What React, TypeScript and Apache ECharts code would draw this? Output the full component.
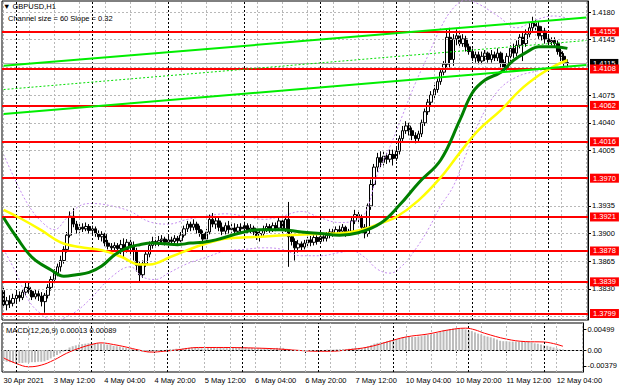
import React, { useEffect, useRef } from "react";
import * as echarts from "echarts";

const FONT = "'Liberation Sans', Arial, sans-serif";
const SLOTS = 185;

// [open, close, low, high] per H1 bar, first bar = 30 Apr 2021 20:00
const candles: number[][] = [
  [1.3828,1.3810,1.3806,1.3832],[1.3810,1.3815,1.3803,1.3820],[1.3815,1.3812,1.3806,1.3822],[1.3812,1.3818,1.3808,1.3824],
  [1.3818,1.3822,1.3812,1.3828],[1.3822,1.3819,1.3814,1.3827],[1.3819,1.3826,1.3816,1.3830],[1.3826,1.3832,1.3822,1.3838],
  [1.3832,1.3827,1.3824,1.3840],[1.3827,1.3820,1.3816,1.3830],[1.3820,1.3824,1.3817,1.3829],[1.3824,1.3821,1.3815,1.3828],
  [1.3821,1.3814,1.3808,1.3826],[1.3814,1.3822,1.3800,1.3825],[1.3822,1.3832,1.3818,1.3836],[1.3832,1.3842,1.3828,1.3846],
  [1.3842,1.3850,1.3838,1.3855],[1.3850,1.3858,1.3846,1.3862],[1.3858,1.3866,1.3852,1.3872],[1.3866,1.3880,1.3862,1.3884],
  [1.3880,1.3898,1.3876,1.3902],[1.3898,1.3922,1.3895,1.3928],[1.3922,1.3912,1.3908,1.3932],[1.3912,1.3905,1.3900,1.3916],
  [1.3905,1.3908,1.3901,1.3912],[1.3908,1.3906,1.3902,1.3913],[1.3906,1.3909,1.3903,1.3914],[1.3909,1.3904,1.3900,1.3912],
  [1.3904,1.3906,1.3899,1.3910],[1.3906,1.3900,1.3896,1.3909],[1.3900,1.3896,1.3892,1.3904],[1.3896,1.3899,1.3890,1.3903],
  [1.3899,1.3888,1.3884,1.3901],[1.3888,1.3884,1.3880,1.3892],[1.3884,1.3882,1.3878,1.3888],[1.3882,1.3885,1.3878,1.3889],
  [1.3885,1.3881,1.3877,1.3888],[1.3881,1.3886,1.3874,1.3892],[1.3886,1.3880,1.3868,1.3894],[1.3880,1.3889,1.3876,1.3893],
  [1.3889,1.3884,1.3872,1.3895],[1.3884,1.3878,1.3866,1.3890],[1.3878,1.3860,1.3852,1.3882],[1.3860,1.3848,1.3840,1.3864],
  [1.3848,1.3862,1.3844,1.3866],[1.3862,1.3874,1.3858,1.3878],[1.3874,1.3885,1.3870,1.3890],[1.3885,1.3890,1.3881,1.3896],
  [1.3890,1.3887,1.3883,1.3895],[1.3887,1.3891,1.3884,1.3897],[1.3891,1.3893,1.3887,1.3898],[1.3893,1.3889,1.3885,1.3896],
  [1.3889,1.3892,1.3886,1.3897],[1.3892,1.3890,1.3886,1.3896],[1.3890,1.3894,1.3887,1.3898],[1.3894,1.3891,1.3887,1.3897],
  [1.3891,1.3898,1.3889,1.3902],[1.3898,1.3906,1.3895,1.3910],[1.3906,1.3912,1.3902,1.3916],[1.3912,1.3908,1.3903,1.3915],
  [1.3908,1.3912,1.3904,1.3918],[1.3912,1.3905,1.3900,1.3915],[1.3905,1.3900,1.3896,1.3910],[1.3900,1.3893,1.3878,1.3904],
  [1.3893,1.3902,1.3889,1.3906],[1.3902,1.3918,1.3899,1.3924],[1.3918,1.3912,1.3908,1.3926],[1.3912,1.3916,1.3906,1.3922],
  [1.3916,1.3908,1.3903,1.3920],[1.3908,1.3903,1.3898,1.3914],[1.3903,1.3910,1.3899,1.3914],[1.3910,1.3905,1.3900,1.3916],
  [1.3905,1.3907,1.3901,1.3912],[1.3907,1.3903,1.3899,1.3913],[1.3903,1.3908,1.3899,1.3912],[1.3908,1.3906,1.3901,1.3913],
  [1.3906,1.3910,1.3902,1.3915],[1.3910,1.3904,1.3900,1.3913],[1.3904,1.3907,1.3900,1.3912],[1.3907,1.3902,1.3898,1.3910],
  [1.3902,1.3896,1.3892,1.3906],[1.3896,1.3900,1.3890,1.3904],[1.3900,1.3906,1.3896,1.3910],[1.3906,1.3909,1.3902,1.3913],
  [1.3909,1.3905,1.3901,1.3912],[1.3905,1.3910,1.3902,1.3914],[1.3910,1.3907,1.3903,1.3914],[1.3907,1.3916,1.3904,1.3920],
  [1.3916,1.3906,1.3900,1.3923],[1.3906,1.3918,1.3902,1.3922],[1.3918,1.3896,1.3858,1.3940],[1.3896,1.3890,1.3885,1.3902],
  [1.3890,1.3882,1.3866,1.3894],[1.3882,1.3887,1.3876,1.3892],[1.3887,1.3883,1.3878,1.3890],[1.3883,1.3888,1.3880,1.3892],
  [1.3888,1.3892,1.3884,1.3896],[1.3892,1.3889,1.3884,1.3897],[1.3889,1.3895,1.3885,1.3899],[1.3895,1.3890,1.3886,1.3899],
  [1.3890,1.3896,1.3887,1.3900],[1.3896,1.3894,1.3890,1.3900],[1.3894,1.3898,1.3890,1.3902],[1.3898,1.3902,1.3894,1.3906],
  [1.3902,1.3900,1.3896,1.3906],[1.3900,1.3905,1.3897,1.3909],[1.3905,1.3903,1.3899,1.3910],[1.3903,1.3908,1.3900,1.3912],
  [1.3908,1.3900,1.3896,1.3910],[1.3900,1.3903,1.3897,1.3906],[1.3903,1.3916,1.3901,1.3920],[1.3916,1.3924,1.3912,1.3930],
  [1.3924,1.3920,1.3914,1.3928],[1.3920,1.3908,1.3904,1.3924],[1.3908,1.3900,1.3894,1.3912],[1.3900,1.3935,1.3896,1.3938],
  [1.3935,1.3962,1.3930,1.3968],[1.3962,1.3984,1.3958,1.3988],[1.3984,1.3996,1.3978,1.4002],[1.3996,1.3990,1.3984,1.4004],
  [1.3990,1.3998,1.3986,1.4004],[1.3998,1.3994,1.3988,1.4002],[1.3994,1.4000,1.3990,1.4006],[1.4000,1.3995,1.3986,1.4006],
  [1.3995,1.4004,1.3992,1.4010],[1.4004,1.4020,1.4000,1.4024],[1.4020,1.4030,1.4016,1.4036],[1.4030,1.4036,1.4026,1.4042],
  [1.4036,1.4030,1.4024,1.4040],[1.4030,1.4024,1.4018,1.4034],[1.4024,1.4020,1.4014,1.4028],[1.4020,1.4026,1.4015,1.4030],
  [1.4026,1.4040,1.4022,1.4044],[1.4040,1.4054,1.4036,1.4058],[1.4054,1.4066,1.4050,1.4070],[1.4066,1.4075,1.4060,1.4080],
  [1.4075,1.4082,1.4070,1.4088],[1.4082,1.4092,1.4078,1.4096],[1.4092,1.4104,1.4088,1.4108],[1.4104,1.4114,1.4100,1.4118],
  [1.4114,1.4148,1.4110,1.4158],[1.4148,1.4120,1.4110,1.4160],[1.4120,1.4146,1.4112,1.4152],[1.4146,1.4150,1.4138,1.4158],
  [1.4150,1.4140,1.4135,1.4154],[1.4140,1.4146,1.4136,1.4152],[1.4146,1.4136,1.4130,1.4150],[1.4136,1.4130,1.4126,1.4140],
  [1.4130,1.4122,1.4118,1.4134],[1.4122,1.4126,1.4116,1.4130],[1.4126,1.4118,1.4114,1.4130],[1.4118,1.4124,1.4114,1.4130],
  [1.4124,1.4128,1.4118,1.4132],[1.4128,1.4120,1.4116,1.4130],[1.4120,1.4126,1.4116,1.4132],[1.4126,1.4122,1.4118,1.4130],
  [1.4122,1.4128,1.4118,1.4134],[1.4128,1.4116,1.4110,1.4130],[1.4116,1.4110,1.4104,1.4120],[1.4110,1.4124,1.4106,1.4128],
  [1.4124,1.4134,1.4118,1.4138],[1.4134,1.4128,1.4122,1.4140],[1.4128,1.4138,1.4124,1.4144],[1.4138,1.4148,1.4134,1.4152],
  [1.4148,1.4140,1.4118,1.4156],[1.4140,1.4152,1.4136,1.4158],[1.4152,1.4160,1.4148,1.4166],[1.4160,1.4166,1.4156,1.4174],
  [1.4166,1.4162,1.4156,1.4172],[1.4162,1.4150,1.4146,1.4168],[1.4150,1.4156,1.4144,1.4162],[1.4156,1.4146,1.4140,1.4160],
  [1.4146,1.4142,1.4138,1.4150],[1.4142,1.4144,1.4138,1.4148],[1.4144,1.4140,1.4136,1.4148],[1.4140,1.4130,1.4126,1.4144],
  [1.4130,1.4124,1.4118,1.4134],[1.4124,1.4116,1.4112,1.4128],[1.4116,1.4115,1.4111,1.4120],
];

// moving averages: [bar, price]
const greenMA: number[][] = [
  [0,1.3920],[4,1.3896],[9,1.3870],[15,1.3854],[19,1.3846],[23,1.3848],[27,1.3851],[31,1.3859],[35,1.3873],[39,1.3882],
  [43,1.3886],[47,1.3888],[51,1.3887],[55,1.3886],[59,1.3888],[63,1.3889],[67,1.3892],[75,1.3901],[81,1.3905],[87,1.3905],
  [94,1.3902],[100,1.3900],[106,1.3898],[112,1.3901],[119,1.3913],[125,1.3936],[131,1.3964],[138,1.3993],[144,1.4043],
  [148,1.4078],[152,1.4094],[157,1.4104],[161,1.4119],[165,1.4129],[169,1.4136],[174,1.4136],[178,1.4134],
];
const yellowMA: number[][] = [
  [0,1.3930],[5,1.3920],[12,1.3904],[18,1.3889],[24,1.3883],[31,1.3879],[37,1.3871],[43,1.3861],[46,1.3861],[53,1.3871],
  [62,1.3885],[71,1.3894],[81,1.3896],[89,1.3898],[96,1.3899],[108,1.3901],[115,1.3907],[119,1.3913],[124,1.3921],
  [131,1.3942],[138,1.3971],[144,1.4002],[150,1.4031],[157,1.4056],[163,1.4081],[169,1.4100],[174,1.4112],[178,1.4119],
];
const bandUpper: number[][] = [
  [0,1.4000],[4,1.3965],[8,1.3935],[12,1.3915],[16,1.3905],[20,1.3920],[24,1.3935],[28,1.3938],[34,1.3935],[40,1.3928],
  [46,1.3915],[52,1.3912],[58,1.3918],[64,1.3922],[70,1.3925],[76,1.3922],[82,1.3918],[88,1.3922],[94,1.3928],[100,1.3920],
  [106,1.3914],[110,1.3915],[114,1.3925],[118,1.3975],[122,1.4010],[126,1.4050],[130,1.4090],[134,1.4125],[138,1.4160],
  [142,1.4185],[146,1.4195],[150,1.4190],[156,1.4175],[162,1.4160],[168,1.4170],[174,1.4175],[178,1.4172],
];
const bandLower: number[][] = [
  [0,1.3880],[4,1.3850],[8,1.3815],[12,1.3798],[16,1.3790],[20,1.3795],[24,1.3805],[28,1.3820],[34,1.3845],[40,1.3858],
  [44,1.3845],[48,1.3842],[52,1.3850],[58,1.3862],[64,1.3870],[70,1.3878],[76,1.3880],[82,1.3882],[88,1.3880],[94,1.3872],
  [100,1.3872],[106,1.3876],[110,1.3878],[114,1.3870],[118,1.3855],[122,1.3850],[126,1.3860],[130,1.3880],[134,1.3905],
  [138,1.3935],[142,1.3960],[146,1.4000],[150,1.4040],[156,1.4080],[162,1.4098],[168,1.4105],[174,1.4110],[178,1.4112],
];

// regression channel: [bar, price]
const channelTop = [[0, 1.4112], [184, 1.4173]];
const channelMid = [[0, 1.4082], [184, 1.4144]];
const channelBottom = [[0, 1.4051], [184, 1.4113]];

const levels = [1.4155, 1.4108, 1.4062, 1.4016, 1.3970, 1.3921, 1.3878, 1.3839, 1.3799];
const bidPrice = 1.4115;

const priceGrid = [1.3795, 1.3830, 1.3865, 1.3900, 1.3935, 1.3970, 1.4005, 1.4040, 1.4075, 1.4110, 1.4145, 1.4180];
const priceLabels = [1.3830, 1.3865, 1.3900, 1.3935, 1.4005, 1.4040, 1.4075, 1.4145, 1.4180];

const timeLabelBars = [0, 16, 32, 48, 64, 80, 96, 112, 128, 144, 160, 176];
const timeLabels = ["30 Apr 2021", "3 May 12:00", "4 May 04:00", "4 May 20:00", "5 May 12:00", "6 May 04:00",
  "6 May 20:00", "7 May 12:00", "10 May 04:00", "10 May 20:00", "11 May 12:00", "12 May 04:00"];
const gridBars = [0, 8, 16, 24, 32, 40, 48, 56, 64, 72, 80, 88, 96, 104, 112, 120, 128, 136, 144, 152, 160, 168, 176, 184];
const daySeparators = [4, 28, 52, 76, 100, 124, 148, 172];

const macdHist = [
  -0.0026,-0.0028,-0.0029,-0.0030,-0.0031,-0.0031,-0.0031,-0.0030,-0.0030,-0.0029,
  -0.0029,-0.0028,-0.0028,-0.0027,-0.0024,-0.0020,-0.0016,-0.0012,-0.0008,-0.0004,
  0.0001,0.0006,0.0009,0.0011,0.0013,0.0014,0.0015,0.0016,0.0016,0.0016,
  0.0016,0.0015,0.0014,0.0013,0.0012,0.0010,0.0009,0.0008,0.0006,0.0005,
  0.0004,0.0003,0.0000,-0.0003,-0.0004,-0.0005,-0.0005,-0.0004,-0.0003,-0.0002,
  -0.0001,0.0000,0.0001,0.0002,0.0002,0.0003,0.0003,0.0004,0.0005,0.0005,
  0.0006,0.0006,0.0005,0.0004,0.0004,0.0005,0.0006,0.0006,0.0006,0.0006,
  0.0006,0.0006,0.0006,0.0006,0.0006,0.0006,0.0006,0.0006,0.0005,0.0005,
  0.0004,0.0004,0.0004,0.0004,0.0004,0.0004,0.0004,0.0005,0.0005,0.0005,
  0.0003,0.0002,0.0000,-0.0001,-0.0002,-0.0002,-0.0002,-0.0002,-0.0001,-0.0001,
  -0.0001,0.0000,0.0000,0.0001,0.0001,0.0001,0.0002,0.0002,0.0002,0.0002,
  0.0003,0.0004,0.0005,0.0005,0.0004,0.0006,0.0009,0.0012,0.0015,0.0017,
  0.0018,0.0019,0.0021,0.0023,0.0024,0.0026,0.0028,0.0030,0.0031,0.0031,
  0.0031,0.0031,0.0032,0.0033,0.0035,0.0036,0.0037,0.0039,0.0041,0.0043,
  0.0047,0.0048,0.0050,0.0051,0.0051,0.0051,0.0050,0.0049,0.0047,0.0045,
  0.0042,0.0039,0.0037,0.0034,0.0032,0.0030,0.0028,0.0025,0.0022,0.0021,
  0.0021,0.0020,0.0020,0.0020,0.0019,0.0019,0.0019,0.0019,0.0018,0.0016,
  0.0015,0.0013,0.0011,0.0010,0.0008,0.0006,0.0004,0.0002,0.00013,
];
const macdSignal: number[][] = [
  [0,-0.0019],[4,-0.0032],[8,-0.0040],[12,-0.0036],[16,-0.0024],[20,-0.0008],[24,0.0004],[28,0.0013],[31,0.0017],
  [35,0.0013],[39,0.0007],[43,0.0000],[47,-0.0005],[51,-0.0003],[55,0.0000],[62,0.0006],[70,0.0006],[78,0.0005],
  [86,0.0003],[94,-0.0001],[100,-0.0003],[104,-0.0003],[109,0.0000],[116,0.0007],[122,0.0019],[128,0.0031],
  [135,0.0038],[141,0.0047],[147,0.0052],[150,0.0048],[153,0.0040],[160,0.0026],[166,0.0020],[172,0.0019],[178,0.00089],
];
const macdLabels = [-0.00379, 0, 0.00499];

const cats = Array.from({ length: SLOTS }, (_, i) => String(i));
const isTimeLabel = (i: number) => timeLabelBars.indexOf(i) >= 0;

const hiddenLine = { show: false };

function buildOption() {
  const lineBase = { type: "line", showSymbol: false, symbol: "none", silent: true, animation: false };
  const ml = { silent: true, symbol: ["none", "none"], animation: false, precision: 6 };
  const tagLabel = (bg: string) => ({
    show: true, position: "end", distance: 2, formatter: (p: any) => Number(p.value).toFixed(4),
    backgroundColor: bg, color: "#fff", fontSize: 7.5, lineHeight: 8, padding: [1, 3, 0, 3], fontFamily: FONT,
  });
  return {
    animation: false,
    backgroundColor: "#ffffff",
    textStyle: { fontFamily: FONT },
    grid: [
      { left: 2, top: 1, width: 586, height: 319, show: true, borderColor: "#000", borderWidth: 1, backgroundColor: "#fff" },
      { left: 2, top: 323, width: 586, height: 49, show: true, borderColor: "#000", borderWidth: 1, backgroundColor: "#fff" },
    ],
    xAxis: [
      { type: "category", gridIndex: 0, data: cats, boundaryGap: true, axisLine: hiddenLine, axisTick: hiddenLine,
        axisLabel: hiddenLine, splitLine: hiddenLine },
      { type: "category", gridIndex: 1, data: cats, boundaryGap: true,
        axisLine: { show: true, lineStyle: { color: "#000", width: 1 } },
        axisTick: { show: true, interval: (i: number) => isTimeLabel(i), alignWithLabel: true, length: 3, lineStyle: { color: "#000" } },
        axisLabel: { show: true, interval: (i: number) => isTimeLabel(i),
          formatter: (_v: string, i: number) => timeLabels[timeLabelBars.indexOf(i)] ?? "",
          align: "left", fontSize: 7.5, color: "#000", margin: 4, fontFamily: FONT },
        splitLine: hiddenLine },
    ],
    yAxis: [
      { type: "value", gridIndex: 0, position: "right", min: 1.37908, max: 1.41939, scale: true,
        axisLine: { show: true, lineStyle: { color: "#000" } },
        axisTick: { show: true, customValues: priceLabels, length: 3, lineStyle: { color: "#000" } },
        axisLabel: { show: true, customValues: priceLabels, formatter: (v: number) => v.toFixed(4), fontSize: 7.5,
          color: "#000", margin: 4, fontFamily: FONT },
        splitLine: hiddenLine },
      { type: "value", gridIndex: 1, position: "right", min: -0.005238, max: 0.006429,
        axisLine: { show: true, lineStyle: { color: "#000" } },
        axisTick: { show: true, customValues: macdLabels, length: 3, lineStyle: { color: "#000" } },
        axisLabel: { show: true, customValues: macdLabels, formatter: (v: number) => (v === 0 ? "0.00" : v.toFixed(5)),
          fontSize: 7.5, color: "#000", margin: 4, fontFamily: FONT },
        splitLine: hiddenLine },
    ],
    series: [
      { ...lineBase, xAxisIndex: 0, yAxisIndex: 0, data: [], z: 1,
        markLine: { ...ml, label: { show: false }, lineStyle: { color: "#b8b8b8", width: 1, type: [2, 2] },
          data: [...gridBars.map((b) => ({ xAxis: b })), ...priceGrid.map((p) => ({ yAxis: p }))] } },
      { ...lineBase, xAxisIndex: 0, yAxisIndex: 0, data: [], z: 1,
        markLine: { ...ml, label: { show: false }, lineStyle: { color: "#000", width: 1, type: [2, 2] },
          data: daySeparators.map((b) => ({ xAxis: b })) } },
      { type: "candlestick", name: "GBPUSD", xAxisIndex: 0, yAxisIndex: 0, data: candles, barWidth: 3, z: 3, silent: true,
        itemStyle: { color: "#ffffff", color0: "#000000", borderColor: "#000000", borderColor0: "#000000", borderWidth: 1 } },
      { ...lineBase, name: "BB upper", xAxisIndex: 0, yAxisIndex: 0, data: bandUpper, smooth: 0.4, z: 4,
        lineStyle: { color: "#c58cf0", width: 1, type: [2, 2] } },
      { ...lineBase, name: "BB lower", xAxisIndex: 0, yAxisIndex: 0, data: bandLower, smooth: 0.4, z: 4,
        lineStyle: { color: "#c58cf0", width: 1, type: [2, 2] } },
      { ...lineBase, name: "MA slow", xAxisIndex: 0, yAxisIndex: 0, data: yellowMA, smooth: 0.4, z: 5,
        lineStyle: { color: "#ffff00", width: 2.5 } },
      { ...lineBase, name: "MA fast", xAxisIndex: 0, yAxisIndex: 0, data: greenMA, smooth: 0.4, z: 5,
        lineStyle: { color: "#008000", width: 3 } },
      { ...lineBase, name: "ch top", xAxisIndex: 0, yAxisIndex: 0, data: channelTop, z: 6, lineStyle: { color: "#00ee00", width: 2 } },
      { ...lineBase, name: "ch mid", xAxisIndex: 0, yAxisIndex: 0, data: channelMid, z: 6, lineStyle: { color: "#00dd00", width: 1, type: [2, 2] } },
      { ...lineBase, name: "ch bottom", xAxisIndex: 0, yAxisIndex: 0, data: channelBottom, z: 6, lineStyle: { color: "#00ee00", width: 2 } },
      { ...lineBase, xAxisIndex: 0, yAxisIndex: 0, data: [], z: 6,
        markLine: { ...ml, lineStyle: { color: "#b0b0b0", width: 1, type: "solid" }, label: tagLabel("#000"),
          data: [{ yAxis: bidPrice }] } },
      { ...lineBase, xAxisIndex: 0, yAxisIndex: 0, data: [], z: 8,
        markLine: { ...ml, lineStyle: { color: "#ff0000", width: 2, type: "solid" }, label: tagLabel("#ff0000"),
          data: levels.map((v) => ({ yAxis: v })) } },
      { ...lineBase, xAxisIndex: 1, yAxisIndex: 1, data: [], z: 1,
        markLine: { ...ml, label: { show: false }, lineStyle: { color: "#b8b8b8", width: 1, type: [2, 2] },
          data: [...gridBars.map((b) => ({ xAxis: b })), { yAxis: 0 }] } },
      { ...lineBase, xAxisIndex: 1, yAxisIndex: 1, data: [], z: 1,
        markLine: { ...ml, label: { show: false }, lineStyle: { color: "#000", width: 1, type: [2, 2] },
          data: daySeparators.map((b) => ({ xAxis: b })) } },
      { type: "bar", name: "MACD", xAxisIndex: 1, yAxisIndex: 1, data: macdHist, barWidth: 2, z: 3, silent: true,
        itemStyle: { color: "#bcbcbc" } },
      { ...lineBase, name: "Signal", xAxisIndex: 1, yAxisIndex: 1, data: macdSignal, smooth: 0.4, z: 4,
        lineStyle: { color: "#ff0000", width: 1 } },
    ],
    graphic: [
      { type: "text", left: 3, top: 2, z: 20, silent: true,
        style: { text: "\u25BC GBPUSD,H1", fill: "#000", font: `7.5px ${FONT}` } },
      { type: "text", left: 8, top: 14, z: 20, silent: true,
        style: { text: "Channel size = 60 Slope = 0.32", fill: "#000", font: `7.5px ${FONT}` } },
      { type: "text", left: 6, top: 326, z: 20, silent: true,
        style: { text: "MACD(12,26,9) 0.00013 0.00089", fill: "#000", font: `7.5px ${FONT}` } },
    ],
  };
}

export default function App() {
  const ref = useRef<HTMLDivElement>(null);
  useEffect(() => {
    if (!ref.current) return;
    const chart = echarts.init(ref.current, null, { renderer: "svg" });
    chart.setOption(buildOption() as any);
    return () => chart.dispose();
  }, []);
  return <div ref={ref} style={{ position: "absolute", left: 0, top: 0, width: 620, height: 388 }} />;
}
